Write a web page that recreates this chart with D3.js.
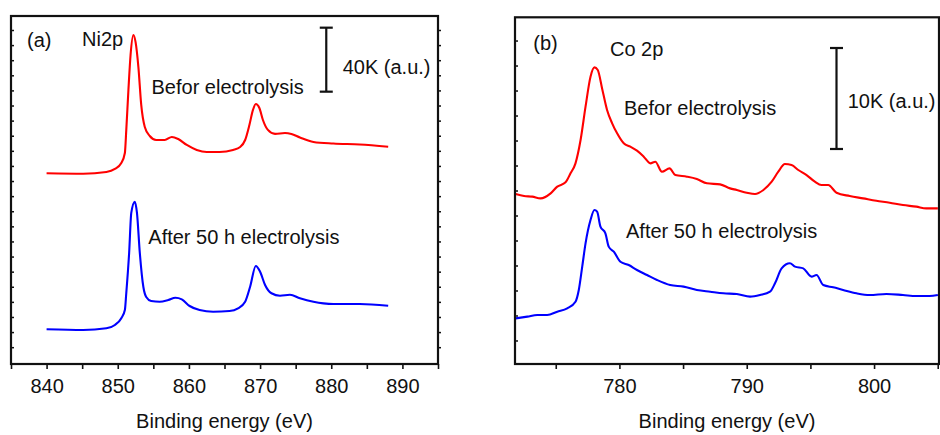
<!DOCTYPE html>
<html><head><meta charset="utf-8">
<script src="https://cdn.jsdelivr.net/npm/d3@7/dist/d3.min.js"></script>
<style>
body{margin:0;background:#fff}
svg{display:block}
text{font-family:"Liberation Sans",Arial,sans-serif;fill:#111}
</style>
</head><body>
<svg id="chart" width="940" height="435"></svg>
<script>
// ---------- DATA ----------
// Panel (a) Ni 2p
const niBeforeEnergy = [840.0, 845.15, 848.4, 849.6, 850.5, 851.0, 851.2, 851.5, 851.8, 852.2, 852.5, 852.9, 853.3, 853.8, 854.5, 855.4, 856.6, 857.6, 858.5, 859.7, 861.1, 862.5, 864.3, 866.2, 867.2, 867.9, 868.5, 869.0, 869.4, 869.9, 870.4, 871.1, 872.1, 873.5, 874.4, 875.6, 877.5, 880.3, 884.0, 888.0];
const niBefore = [119.2, 118.9, 120, 121.9, 125.6, 131.9, 146.3, 171.3, 193.1, 205.6, 201.3, 185.6, 161.9, 148.1, 142.5, 140, 140, 141.9, 140.6, 136.9, 133.8, 132.5, 132.5, 133.8, 135.6, 140, 149.4, 158.8, 162.5, 160, 152.5, 146.3, 143.8, 144.4, 143.8, 141.6, 138.8, 137.8, 137.2, 135.8];
const niAfterEnergy = [840.0, 845.15, 848.4, 849.6, 850.5, 851.0, 851.2, 851.6, 851.9, 852.4, 852.7, 853.1, 853.6, 854.0, 854.7, 855.9, 857.1, 858.1, 859.0, 860.1, 861.5, 863.4, 865.7, 866.9, 867.9, 868.6, 869.4, 870.0, 870.7, 871.6, 872.8, 874.2, 875.6, 877.5, 878.9, 880.3, 884.0, 888.0];
const niAfter = [21.7, 21.25, 22.3, 24.4, 28.6, 33.75, 44.4, 69.4, 94.4, 101.4, 94.4, 69.4, 48.1, 41.9, 39.4, 38.9, 40, 41.4, 40.4, 36.25, 33.75, 32.7, 33.1, 34.8, 38.9, 48.3, 61.25, 57.7, 49.4, 44.2, 42.7, 43.3, 41.1, 38.9, 37.9, 37.5, 37.5, 36.4];

// Panel (b) Co 2p
const coBeforeEnergy = [771.85, 772.51, 773.16, 773.81, 774.60, 775.12, 775.77, 776.16, 776.55, 776.95, 777.34, 777.73, 778.04, 778.30, 778.64, 779.03, 779.43, 779.82, 780.34, 780.86, 781.38, 781.91, 782.43, 782.82, 783.34, 783.94, 784.39, 785.30, 786.08, 786.87, 787.91, 788.69, 789.22, 790.00, 790.65, 791.31, 791.96, 792.48, 793.00, 793.52, 794.05, 794.70, 795.35, 795.87, 796.40, 797.05, 798.09, 799.14, 800.18, 801.23, 802.27, 803.32, 804.10, 805.01];
const coBefore = [16.83, 16.63, 16.57, 16.40, 16.90, 17.56, 17.99, 18.88, 19.87, 22.18, 25.48, 28.45, 29.37, 29.11, 27.29, 25.15, 23.83, 22.84, 21.85, 21.52, 21.12, 20.53, 19.87, 20.03, 19.04, 19.37, 18.71, 18.55, 18.32, 17.89, 17.79, 17.39, 17.23, 16.96, 16.83, 17.23, 18.05, 19.04, 19.80, 19.70, 19.21, 18.71, 18.05, 17.72, 17.72, 16.96, 16.63, 16.40, 16.17, 15.97, 15.74, 15.58, 15.41, 15.41];
const coAfterEnergy = [771.85, 772.77, 773.55, 774.33, 775.12, 775.90, 776.55, 776.81, 777.08, 777.34, 777.73, 778.04, 778.25, 778.51, 778.90, 779.16, 779.56, 780.08, 780.73, 781.38, 782.17, 782.95, 783.99, 785.04, 786.08, 787.13, 788.17, 789.22, 790.26, 791.04, 791.83, 792.22, 792.74, 793.39, 793.79, 794.44, 795.09, 795.48, 796.01, 796.79, 797.57, 798.62, 799.66, 800.97, 802.27, 803.32, 804.36, 805.01];
const coAfter = [4.52, 4.69, 4.85, 4.85, 5.18, 5.51, 6.17, 7.33, 9.64, 11.95, 14.26, 15.25, 15.08, 13.60, 12.94, 11.62, 11.12, 10.13, 9.80, 9.31, 8.81, 8.32, 7.82, 7.66, 7.33, 7.16, 7.00, 6.93, 6.67, 6.83, 7.16, 7.99, 9.47, 9.97, 9.64, 9.47, 8.65, 8.81, 7.82, 7.59, 7.33, 7.00, 6.83, 6.93, 6.83, 6.73, 6.73, 6.83];

const niTickLabels = [840, 850, 860, 870, 880, 890];
const coTickLabels = [780, 790, 800];
const axisTitle = "Binding energy (eV)";
const niTexts = {panel: "(a)", element: "Ni2p", before: "Befor electrolysis", after: "After 50 h electrolysis", bar: "40K (a.u.)"};
const coTexts = {panel: "(b)", element: "Co 2p", before: "Befor electrolysis", after: "After 50 h electrolysis", bar: "10K (a.u.)"};
const niBarSpan = 40;   // K counts
const coBarSpan = 10;   // K counts

// ---------- DRAW ----------
const svg = d3.select("#chart");

function panel(cfg) {
  const g = svg.append("g");
  const x = d3.scaleLinear().domain(cfg.xDomain).range([cfg.left, cfg.right]);
  const y = d3.scaleLinear().domain(cfg.yDomain).range([cfg.bottom, cfg.top]);
  const clipId = "clip" + cfg.id;
  svg.append("clipPath").attr("id", clipId).append("rect")
    .attr("x", cfg.left).attr("y", cfg.top)
    .attr("width", cfg.right - cfg.left).attr("height", cfg.bottom - cfg.top);

  const line = d3.line().x(d => x(d[0])).y(d => y(d[1])).curve(cfg.curve);
  cfg.series.forEach(s => {
    g.append("path")
      .datum(d3.zip(s.e, s.v))
      .attr("clip-path", `url(#${clipId})`)
      .attr("fill", "none").attr("stroke", s.color)
      .attr("stroke-width", 2.1).attr("stroke-linejoin", "round")
      .attr("d", line);
  });

  // x axis
  const xAxis = d3.axisBottom(x)
    .tickValues(d3.range(cfg.minorStart, cfg.xDomain[1] + 0.01, 5))
    .tickSize(5).tickPadding(0)
    .tickFormat(d => cfg.labels.includes(d) ? d : "");
  const ax = g.append("g").attr("transform", `translate(0,${cfg.bottom})`).call(xAxis);
  ax.select(".domain").remove();
  ax.selectAll(".tick line").attr("stroke", "#111").attr("stroke-width", 1.6);
  ax.selectAll(".tick text").attr("y", 29).attr("dy", 0)
    .style("font-size", "20px").attr("fill", "#111");

  // y minor ticks (no labels)
  const yt = d3.range(cfg.yTickStart, cfg.yDomain[1], cfg.yTickStep);
  g.selectAll(null).data(yt).enter().append("line")
    .attr("x1", cfg.left).attr("x2", cfg.left + 3)
    .attr("y1", d => y(d)).attr("y2", d => y(d))
    .attr("stroke", "#111").attr("stroke-width", 1.5);
  if (cfg.rightTicks) {
    g.selectAll(null).data(yt).enter().append("line")
      .attr("x1", cfg.right).attr("x2", cfg.right + 3)
      .attr("y1", d => y(d)).attr("y2", d => y(d))
      .attr("stroke", "#111").attr("stroke-width", 1.5);
  }

  // frame
  g.append("rect").attr("x", cfg.left).attr("y", cfg.top)
    .attr("width", cfg.right - cfg.left).attr("height", cfg.bottom - cfg.top)
    .attr("fill", "none").attr("stroke", "#111").attr("stroke-width", 2.2);

  // axis title
  g.append("text").attr("x", (cfg.left + cfg.right) / 2).attr("y", 428)
    .attr("text-anchor", "middle").style("font-size", "20px").text(axisTitle);

  // scale bar
  const bx = x(cfg.bar.x), by0 = y(cfg.bar.y0), by1 = y(cfg.bar.y0 + cfg.bar.span);
  g.append("line").attr("x1", bx).attr("x2", bx).attr("y1", by0).attr("y2", by1)
    .attr("stroke", "#111").attr("stroke-width", 2.2);
  [by0, by1].forEach(yy => g.append("line")
    .attr("x1", bx - 6.5).attr("x2", bx + 6.5).attr("y1", yy).attr("y2", yy)
    .attr("stroke", "#111").attr("stroke-width", 2.2));

  // annotations
  cfg.texts.forEach(t => g.append("text").attr("x", t.x).attr("y", t.y)
    .style("font-size", "20px").text(t.s));
}

panel({
  id: "a", left: 11, right: 438, top: 16, bottom: 364,
  xDomain: [835, 895], yDomain: [0, 217.5], minorStart: 835, labels: niTickLabels,
  yTickStart: 10.2, yTickStep: 9.44, rightTicks: true,
  curve: d3.curveMonotoneX,
  series: [{e: niBeforeEnergy, v: niBefore, color: "#ff0000"},
           {e: niAfterEnergy, v: niAfter, color: "#0000ff"}],
  bar: {x: 879.3, y0: 170.2, span: niBarSpan},
  texts: [{x: 27, y: 46.5, s: niTexts.panel}, {x: 82, y: 46, s: niTexts.element},
          {x: 151.5, y: 94.3, s: niTexts.before}, {x: 148.3, y: 243.6, s: niTexts.after},
          {x: 342.7, y: 73.6, s: niTexts.bar}]
});

panel({
  id: "b", left: 515, right: 939, top: 17.3, bottom: 364,
  xDomain: [771.8, 805.1], yDomain: [0, 34.33], minorStart: 775, labels: coTickLabels,
  yTickStart: 2.28, yTickStep: 2.475, rightTicks: false,
  curve: d3.curveMonotoneX,
  series: [{e: coBeforeEnergy, v: coBefore, color: "#ff0000"},
           {e: coAfterEnergy, v: coAfter, color: "#0000ff"}],
  bar: {x: 797.05, y0: 21.29, span: coBarSpan},
  texts: [{x: 533.3, y: 49.6, s: coTexts.panel}, {x: 610, y: 56, s: coTexts.element},
          {x: 624, y: 115, s: coTexts.before}, {x: 626, y: 238.3, s: coTexts.after},
          {x: 847.7, y: 107.6, s: coTexts.bar}]
});
</script>
</body></html>
